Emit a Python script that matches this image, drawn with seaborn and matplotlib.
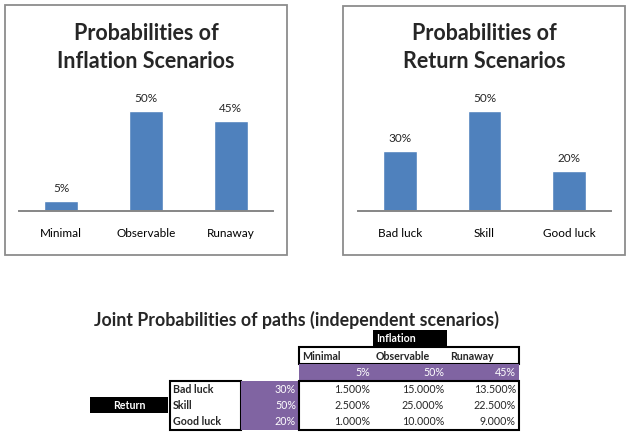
import numpy as np
import pandas as pd
import matplotlib
matplotlib.use("Agg")
import matplotlib.pyplot as plt
from matplotlib.patches import Rectangle
import seaborn as sns

# scenario data
inflation_labels = ["Minimal", "Observable", "Runaway"]
inflation_probs = [0.05, 0.50, 0.45]
return_labels = ["Bad luck", "Skill", "Good luck"]
return_probs = [0.30, 0.50, 0.20]
# joint probabilities in %, rows = return, columns = inflation
joint_pct = [[1.5, 15.0, 13.5],
             [2.5, 25.0, 22.5],
             [1.0, 10.0, 9.0]]

sns.set_style("white")
plt.rcParams["font.family"] = ["Lato", "DejaVu Sans"]

W, H = 631, 436
fig = plt.figure(figsize=(W / 100, H / 100), dpi=100)
fig.patch.set_facecolor("white")

BLUE = "#4F81BD"
PURPLE = "#8064A2"


def px_axes(x0, y0, x1, y1):
    # pixel box (y down) -> figure axes
    return fig.add_axes([x0 / W, 1 - y1 / H, (x1 - x0) / W, (y1 - y0) / H])


def bar_chart(ax, labels, probs, title, title_x):
    df = pd.DataFrame({"scenario": labels, "prob": probs})
    sns.barplot(data=df, x="scenario", y="prob", color=BLUE, width=0.4,
                saturation=1, ax=ax)
    ax.set_ylim(0, 0.6)
    ax.set_xlim(-0.5, len(labels) - 0.5)
    ax.set_xlabel("")
    ax.set_ylabel("")
    ax.set_yticks([])
    sns.despine(ax=ax, left=True)
    ax.spines["bottom"].set_color("#868686")
    ax.spines["bottom"].set_linewidth(1.4)
    ax.tick_params(axis="x", length=0, pad=12, labelsize=8.5, colors="black")
    ax.bar_label(ax.containers[0], labels=[f"{p:.0%}" for p in probs],
                 padding=5, fontsize=8.5)
    ax.patch.set_alpha(0)
    fig.text(title_x / W, 1 - 33 / H, title.split("\n")[0], ha="center",
             va="center", fontsize=15.5, fontweight="bold")
    fig.text(title_x / W, 1 - 62 / H, title.split("\n")[1], ha="center",
             va="center", fontsize=15.5, fontweight="bold")


ax1 = px_axes(19, 91, 273, 211)
bar_chart(ax1, inflation_labels, inflation_probs,
          "Probabilities of\nInflation Scenarios", 146)
ax2 = px_axes(358, 91, 611, 211)
bar_chart(ax2, return_labels, return_probs,
          "Probabilities of\nReturn Scenarios", 484)

# overlay in pixel coordinates for the frames and the table
ov = fig.add_axes([0, 0, 1, 1], zorder=-1)
ov.set_xlim(0, W)
ov.set_ylim(H, 0)
ov.axis("off")


def box(x0, y0, x1, y1, fc="none", ec="none", lw=0):
    ov.add_patch(Rectangle((x0, y0), x1 - x0, y1 - y0, facecolor=fc,
                           edgecolor=ec, linewidth=lw))


box(5, 5, 287, 255, ec="#8C8C8C", lw=1.3)
box(343, 6, 625, 255, ec="#8C8C8C", lw=1.3)

ov.text(297, 320, "Joint Probabilities of paths (independent scenarios)",
        ha="center", va="center", fontsize=12.8, fontweight="bold")

fs = 7.7
col_left = [299, 373, 447, 519]
row_top = [381, 397, 413, 430]

# inflation header
box(373, 330, 447, 346, fc="black")
ov.text(376, 338.5, "Inflation", color="white", fontsize=fs,
        fontweight="bold", va="center")
box(299, 347, 519, 364, fc="white", ec="black", lw=1.5)
for i, lab in enumerate(inflation_labels):
    ov.text(col_left[i] + 3, 356, lab, fontsize=fs, fontweight="bold",
            va="center")
box(299, 364, 519, 381, fc=PURPLE)
for i, p in enumerate(inflation_probs):
    ov.text(col_left[i + 1] - 3, 372.5, f"{p:.0%}", fontsize=fs,
            color="white", va="center", ha="right")

# return header
box(90, 397, 168, 413, fc="black")
ov.text(129, 405, "Return", color="white", fontsize=fs, fontweight="bold",
        va="center", ha="center")
box(170, 381, 241, 430, fc="white", ec="black", lw=1.5)
box(241, 381, 299, 430, fc=PURPLE)
for r, (lab, p) in enumerate(zip(return_labels, return_probs)):
    yc = (row_top[r] + row_top[r + 1]) / 2
    ov.text(173, yc, lab, fontsize=fs, fontweight="bold", va="center")
    ov.text(296, yc, f"{p:.0%}", fontsize=fs, color="white", va="center",
            ha="right")
    for c in range(3):
        ov.text(col_left[c + 1] - 3, yc, f"{joint_pct[r][c]:.3f}%",
                fontsize=fs, va="center", ha="right")
box(299, 381, 519, 430, ec="black", lw=1.5)

fig.savefig("out.png", dpi=100)
